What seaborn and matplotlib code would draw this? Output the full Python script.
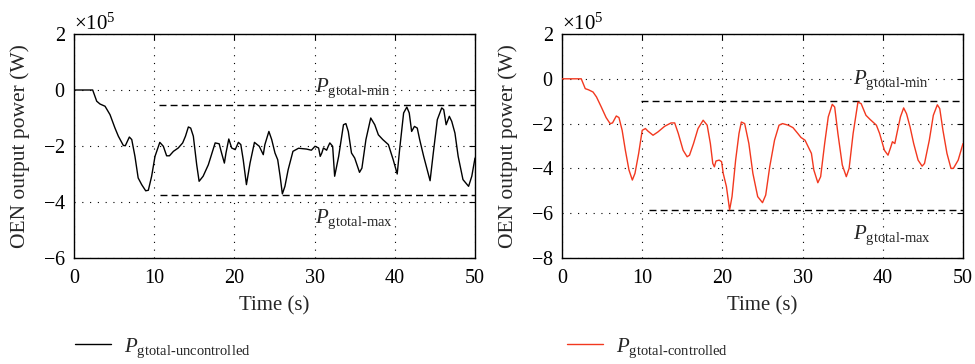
import numpy as np
import pandas as pd
import matplotlib
matplotlib.use("Agg")
import matplotlib.pyplot as plt
import matplotlib.ticker as mticker
from matplotlib.lines import Line2D
import seaborn as sns

# ---------------- data (power in units of 1e5 W) ----------------
t_unc = [0, 2.33, 2.83, 3.24, 3.87, 4.49, 5.11, 5.53, 6.15, 6.4, 6.9, 7.2, 7.6, 8.0, 8.44, 8.94, 9.27,
         9.68, 10.1, 10.7, 11.14, 11.55, 11.9, 12.4, 13.0, 13.55, 13.9, 14.26, 14.55, 14.88, 15.3, 15.6,
         16.1, 16.75, 17.6, 18.1, 18.4, 18.75, 18.95, 19.3, 19.66, 20.1, 20.5, 20.8, 21.1, 21.5, 21.95,
         22.5, 23.1, 23.6, 23.8, 24.3, 24.65, 25.06, 25.4, 25.7, 25.98, 26.3, 26.7, 27.3, 28.0, 29.0,
         29.6, 30.05, 30.5, 30.7, 30.9, 31.1, 31.5, 31.7, 31.9, 32.25, 32.5, 33.0, 33.6, 33.9, 34.2,
         34.6, 35.0, 35.6, 35.9, 36.4, 37.0, 37.5, 37.95, 38.5, 39.2, 39.8, 40.3, 40.6, 41.1, 41.5,
         41.8, 42.1, 42.45, 42.8, 43.1, 43.6, 44.4, 44.8, 45.3, 45.85, 46.1, 46.4, 46.8, 47.1, 47.5,
         47.9, 48.5, 49.2, 49.6, 50.0]
p_unc = [0, 0, -0.40, -0.50, -0.58, -0.88, -1.36, -1.65, -1.98, -1.99, -1.68, -1.77, -2.37, -3.14,
         -3.38, -3.60, -3.58, -3.08, -2.37, -1.87, -2.01, -2.35, -2.35, -2.19, -2.07, -1.89, -1.65,
         -1.32, -1.36, -1.65, -2.67, -3.26, -3.08, -2.67, -1.89, -1.92, -2.25, -2.61, -2.25, -1.75,
         -2.07, -2.13, -1.87, -1.95, -2.49, -3.38, -2.61, -1.87, -2.01, -2.31, -1.95, -1.48, -1.77,
         -2.25, -2.49, -3.08, -3.71, -3.44, -2.85, -2.19, -2.08, -2.11, -2.15, -2.01, -2.07, -2.37,
         -2.25, -2.07, -2.15, -2.01, -1.89, -2.01, -3.08, -2.37, -1.24, -1.20, -1.48, -2.25, -2.43,
         -2.94, -2.79, -1.77, -1.00, -1.24, -1.60, -1.77, -1.95, -2.49, -3.00, -2.13, -0.82, -0.61,
         -0.82, -1.48, -1.30, -1.36, -1.77, -2.37, -3.24, -2.25, -1.06, -0.64, -0.70, -1.24, -0.94,
         -1.12, -1.54, -2.37, -3.20, -3.44, -3.08, -2.43]

t_ctl = [0, 2.4, 2.9, 3.3, 3.87, 4.3, 4.9, 5.5, 6.0, 6.3, 6.77, 7.1, 7.5, 7.9, 8.35, 8.77, 9.1, 9.56,
         10.0, 10.4, 10.7, 11.35, 11.97, 12.8, 13.6, 14.05, 14.5, 15.1, 15.6, 15.9, 16.4, 16.96, 17.6,
         18.1, 18.5, 18.8, 19.0, 19.2, 19.6, 19.9, 20.1, 20.5, 20.9, 21.2, 21.65, 22.07, 22.36, 22.78,
         23.3, 23.8, 24.4, 25.0, 25.4, 25.9, 26.5, 27.06, 27.5, 28.2, 28.8, 29.4, 29.8, 30.3, 30.8,
         31.1, 31.4, 31.9, 32.25, 32.75, 33.2, 33.7, 34.0, 34.4, 34.95, 35.45, 35.8, 36.3, 36.9, 37.3,
         37.9, 38.4, 39.2, 39.6, 40.2, 40.65, 41.0, 41.2, 41.5, 41.8, 42.2, 42.6, 42.96, 43.4, 43.85,
         44.4, 44.9, 45.2, 45.8, 46.3, 46.8, 47.1, 47.5, 48.0, 48.5, 48.8, 49.4, 50.0]
p_ctl = [0, 0, -0.44, -0.49, -0.59, -0.81, -1.26, -1.73, -2.00, -1.97, -1.66, -1.73, -2.30, -3.19,
         -4.07, -4.52, -4.22, -3.33, -2.30, -2.22, -2.33, -2.52, -2.37, -2.12, -1.97, -1.97, -2.44,
         -3.19, -3.48, -3.41, -2.89, -2.22, -1.85, -2.07, -2.89, -3.78, -3.93, -3.67, -3.63, -3.70,
         -4.22, -4.81, -5.85, -5.26, -3.63, -2.44, -1.93, -2.00, -2.89, -4.22, -5.26, -5.53, -5.19,
         -3.93, -2.74, -2.07, -2.00, -2.07, -2.18, -2.44, -2.62, -2.74, -3.11, -3.33, -4.07, -4.64,
         -4.37, -2.89, -1.70, -1.14, -1.26, -2.44, -3.85, -4.37, -4.00, -2.44, -1.04, -1.11, -1.63,
         -1.81, -2.07, -2.44, -3.19, -3.41, -3.04, -2.81, -2.89, -2.37, -1.70, -1.30, -1.56, -2.15,
         -2.89, -3.63, -3.90, -3.78, -2.74, -1.63, -1.16, -1.33, -2.30, -3.33, -4.00, -4.00, -3.63,
         -2.89]

# limits (units of 1e5 W): [start time, value]
lim_unc_min = [10.6, -0.55]
lim_unc_max = [10.7, -3.75]
lim_ctl_min = [9.9, -1.0]
lim_ctl_max = [10.85, -5.85]

xticks = [0, 10, 20, 30, 40, 50]
yticks_unc = [2, 0, -2, -4, -6]
yticks_ctl = [2, 0, -2, -4, -6, -8]

SCALE = 1e5

sns.set_theme(style="white")
plt.rcParams["font.family"] = ["Liberation Serif", "DejaVu Serif"]
plt.rcParams["mathtext.fontset"] = "custom"
plt.rcParams["mathtext.rm"] = "Liberation Serif"
plt.rcParams["mathtext.it"] = "Liberation Serif:italic"
plt.rcParams["mathtext.bf"] = "Liberation Serif:bold"

fig = plt.figure(figsize=(9.75, 3.64), dpi=100)
ax1 = fig.add_axes([74 / 975, 106 / 364, 401 / 975, 224 / 364])
ax2 = fig.add_axes([562 / 975, 106 / 364, 401 / 975, 224 / 364])

df_unc = pd.DataFrame({"t": t_unc, "p": np.array(p_unc) * SCALE})
df_ctl = pd.DataFrame({"t": t_ctl, "p": np.array(p_ctl) * SCALE})

RED = "#f2381f"
sns.lineplot(data=df_unc, x="t", y="p", ax=ax1, color="black", lw=1.0, sort=False, zorder=3)
sns.lineplot(data=df_ctl, x="t", y="p", ax=ax2, color=RED, lw=1.0, sort=False, zorder=3)

HY = "\u2010"
for ax, lmin, lmax, yt, ylim, txmin, txmax in [
    (ax1, lim_unc_min, lim_unc_max, yticks_unc, (-6, 2), (30.0, 0.05), (30.0, -4.6)),
    (ax2, lim_ctl_min, lim_ctl_max, yticks_ctl, (-8, 2), (36.3, -0.05), (36.3, -7.0)),
]:
    ax.plot([lmin[0], 50], [lmin[1] * SCALE] * 2, color="black", ls=(0, (5, 3)), lw=1.0, zorder=2)
    ax.plot([lmax[0], 50], [lmax[1] * SCALE] * 2, color="black", ls=(0, (5, 3)), lw=1.0, zorder=2)
    ax.text(txmin[0], txmin[1] * SCALE, r"$P_{\mathrm{gtotal" + HY + "min}}$", fontsize=15,
            ha="left", va="center", zorder=4)
    ax.text(txmax[0], txmax[1] * SCALE, r"$P_{\mathrm{gtotal" + HY + "max}}$", fontsize=15,
            ha="left", va="center", zorder=4)
    ax.set_xlim(0, 50)
    ax.set_ylim(ylim[0] * SCALE, ylim[1] * SCALE)
    ax.set_xticks(xticks)
    ax.set_yticks([v * SCALE for v in yt])
    fmt = mticker.ScalarFormatter(useMathText=True)
    fmt.set_powerlimits((0, 0))
    ax.yaxis.set_major_formatter(fmt)
    ax.yaxis.get_offset_text().set_fontsize(15)
    ax.grid(True, color="black", ls=(0, (1, 6)), lw=0.8)
    ax.set_axisbelow(True)
    ax.tick_params(direction="in", length=4, width=0.8, top=True, right=True,
                   labelsize=14.5, colors="black")
    ax.tick_params(axis="y", pad=6)
    ax.tick_params(axis="x", pad=8)
    for s in ax.spines.values():
        s.set_visible(True)
        s.set_color("black")
        s.set_linewidth(1.0)
    ax.set_xlabel("Time (s)", fontsize=15, labelpad=6)
    ax.set_ylabel("OEN output power (W)", fontsize=15.5, labelpad=9)
    ax.set_facecolor("white")

h1 = [Line2D([], [], color="black", lw=1.0)]
h2 = [Line2D([], [], color=RED, lw=1.0)]
fig.legend(h1, [r"$P_{\mathrm{gtotal" + HY + "uncontrolled}}$"], loc="center left",
           bbox_to_anchor=(56 / 975, 1 - 348 / 364), frameon=False, fontsize=15,
           handlelength=1.75, handletextpad=0.6)
fig.legend(h2, [r"$P_{\mathrm{gtotal" + HY + "controlled}}$"], loc="center left",
           bbox_to_anchor=(548 / 975, 1 - 348 / 364), frameon=False, fontsize=15,
           handlelength=1.75, handletextpad=0.6)

fig.savefig("out.png", dpi=100, facecolor="white")
